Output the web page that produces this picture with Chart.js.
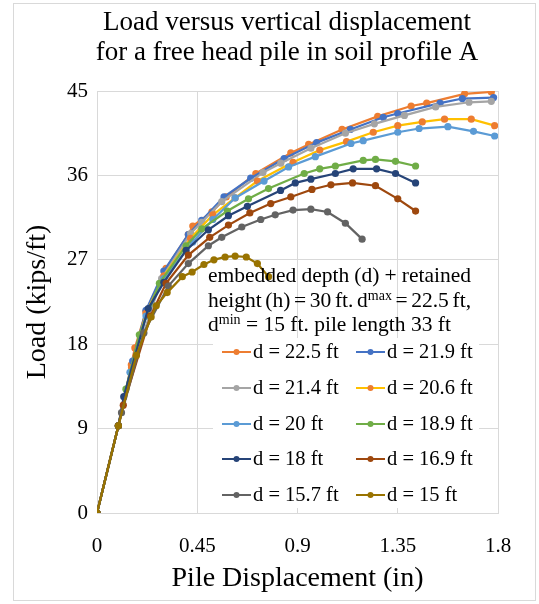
<!DOCTYPE html>
<html>
<head>
<meta charset="utf-8">
<script src="https://cdn.jsdelivr.net/npm/chart.js@4.4.1/dist/chart.umd.min.js"></script>
<style>
  html, body { margin: 0; padding: 0; background: #fff; }
  #wrap { width: 539px; height: 604px; position: relative; }
</style>
</head>
<body>
<div id="wrap"><canvas id="myChart" width="539" height="604"></canvas></div>
<script>
const seriesLabels = ['d = 22.5 ft', 'd = 21.9 ft', 'd = 21.4 ft', 'd = 20.6 ft', 'd = 20 ft',
  'd = 18.9 ft', 'd = 18 ft', 'd = 16.9 ft', 'd = 15.7 ft', 'd = 15 ft'];
const lineColors = ['#ED7D31', '#4472C4', '#A5A5A5', '#FFC000', '#5B9BD5',
  '#70AD47', '#264478', '#9E480E', '#636363', '#997300'];
const markerColors = ['#ED7D31', '#4472C4', '#A5A5A5', '#ED7D31', '#5B9BD5',
  '#70AD47', '#264478', '#9E480E', '#636363', '#997300'];

const xTicks = [0, 0.45, 0.9, 1.35, 1.8];
const yTicks = [0, 9, 18, 27, 36, 45];

// displacement (in) / load (kips/ft)
const disp225 = [0, 0.096, 0.154, 0.17, 0.22, 0.31, 0.41, 0.43, 0.516, 0.58, 0.713, 0.87, 0.95, 1.10, 1.26, 1.41, 1.48, 1.65, 1.77];
const load225 = [0, 9.3, 15.8, 17.6, 21.5, 26.1, 29.7, 30.6, 32.1, 33.7, 36.2, 38.4, 39.3, 40.9, 42.3, 43.4, 43.7, 44.7, 44.9];
const disp219 = [0, 0.096, 0.16, 0.22, 0.30, 0.41, 0.47, 0.57, 0.69, 0.84, 0.986, 1.137, 1.285, 1.35, 1.54, 1.64, 1.78];
const load219 = [0, 9.3, 16.2, 21.6, 25.8, 29.7, 31.2, 33.7, 35.7, 37.8, 39.5, 40.9, 42.2, 42.6, 43.7, 44.2, 44.3];
const disp214 = [0, 0.096, 0.21, 0.29, 0.42, 0.47, 0.56, 0.745, 0.825, 0.96, 1.115, 1.245, 1.38, 1.52, 1.67, 1.77];
const load214 = [0, 9.3, 19.2, 25.0, 29.8, 31.0, 33.2, 36.3, 37.3, 38.9, 40.5, 41.5, 42.4, 43.3, 43.8, 43.9];
const disp206 = [0, 0.096, 0.155, 0.22, 0.30, 0.42, 0.52, 0.62, 0.72, 0.88, 1.0, 1.12, 1.24, 1.35, 1.46, 1.56, 1.68, 1.785];
const load206 = [0, 9.3, 15.5, 21.3, 25.3, 29.3, 31.8, 33.6, 35.4, 37.4, 38.7, 39.6, 40.6, 41.3, 41.7, 42.0, 42.0, 41.3];
const disp200 = [0, 0.096, 0.148, 0.22, 0.30, 0.43, 0.52, 0.62, 0.75, 0.86, 0.98, 1.14, 1.195, 1.35, 1.446, 1.575, 1.69, 1.785];
const load200 = [0, 9.3, 15.0, 21.0, 25.0, 28.9, 31.3, 33.6, 35.4, 36.9, 38.0, 39.4, 39.7, 40.6, 41.0, 41.2, 40.7, 40.2];
const disp189 = [0, 0.096, 0.13, 0.19, 0.28, 0.40, 0.47, 0.585, 0.68, 0.77, 0.93, 1.0, 1.07, 1.195, 1.25, 1.34, 1.43];
const load189 = [0, 9.3, 13.2, 19.0, 24.5, 28.5, 30.3, 32.2, 33.5, 34.6, 36.2, 36.7, 37.0, 37.6, 37.7, 37.5, 37.0];
const disp180 = [0, 0.096, 0.12, 0.23, 0.30, 0.40, 0.50, 0.59, 0.675, 0.824, 0.89, 0.96, 1.07, 1.15, 1.255, 1.34, 1.43];
const load180 = [0, 9.3, 12.4, 21.8, 24.6, 28.0, 30.2, 31.7, 32.7, 34.4, 35.2, 35.6, 36.2, 36.7, 36.7, 36.2, 35.2];
const disp169 = [0, 0.096, 0.118, 0.24, 0.31, 0.41, 0.506, 0.59, 0.686, 0.78, 0.87, 0.965, 1.05, 1.147, 1.25, 1.35, 1.43];
const load169 = [0, 9.3, 11.5, 21.0, 24.5, 27.5, 29.4, 30.7, 32.0, 33.0, 33.7, 34.5, 35.0, 35.2, 34.9, 33.5, 32.2];
const disp157 = [0, 0.096, 0.11, 0.21, 0.32, 0.41, 0.50, 0.56, 0.65, 0.735, 0.80, 0.88, 0.96, 1.035, 1.115, 1.19];
const load157 = [0, 9.3, 10.7, 19.2, 24.2, 26.6, 28.5, 29.4, 30.5, 31.3, 31.8, 32.3, 32.4, 32.1, 30.9, 29.2];
const disp150 = [0, 0.096, 0.177, 0.243, 0.266, 0.315, 0.383, 0.427, 0.48, 0.525, 0.575, 0.62, 0.67, 0.72, 0.77];
const load150 = [0, 9.3, 16.8, 20.9, 22.1, 23.5, 25.2, 25.7, 26.5, 27.0, 27.3, 27.4, 27.3, 26.6, 25.2];

const dispSeries = [disp225, disp219, disp214, disp206, disp200, disp189, disp180, disp169, disp157, disp150];
const loadSeries = [load225, load219, load214, load206, load200, load189, load180, load169, load157, load150];

const serif = "'Liberation Serif', 'Times New Roman', serif";

const datasets = seriesLabels.map((label, i) => ({
  label: label,
  data: dispSeries[i].map((x, j) => ({ x: x, y: loadSeries[i][j] })),
  showLine: true,
  borderColor: lineColors[i],
  backgroundColor: markerColors[i],
  pointBackgroundColor: markerColors[i],
  pointBorderColor: markerColors[i],
  borderWidth: 2.25,
  pointRadius: 3.6,
  pointBorderWidth: 0,
  order: seriesLabels.length - 1 - i
}));

// title, note, legend and frame drawn on the canvas
const decorPlugin = {
  id: 'decor',
  afterDraw(chart) {
    const ctx = chart.ctx;
    ctx.save();
    ctx.strokeStyle = '#D9D9D9';
    ctx.lineWidth = 1;
    ctx.strokeRect(13.5, 3.5, 522, 597);

    ctx.fillStyle = '#000';
    ctx.textBaseline = 'middle';
    ctx.textAlign = 'center';
    ctx.font = '27px ' + serif;
    ctx.fillText('Load versus vertical displacement', 287, 23);
    ctx.fillText('for a free head pile in soil profile A', 287, 53);

    // legend box
    ctx.fillStyle = '#fff';
    ctx.fillRect(213, 338, 266, 170);
    const rows = [352, 388, 424, 459, 495];
    const cols = [222, 356];
    ctx.font = '20.5px ' + serif;
    ctx.textAlign = 'left';
    chart.data.datasets.forEach((ds, i) => {
      const x = cols[i % 2], y = rows[Math.floor(i / 2)];
      ctx.strokeStyle = ds.borderColor;
      ctx.lineWidth = 2;
      ctx.beginPath();
      ctx.moveTo(x, y);
      ctx.lineTo(x + 29, y);
      ctx.stroke();
      ctx.fillStyle = ds.pointBackgroundColor;
      ctx.beginPath();
      ctx.arc(x + 14.5, y, 3, 0, Math.PI * 2);
      ctx.fill();
      ctx.fillStyle = '#000';
      ctx.fillText(ds.label, x + 31, y + 1);
    });

    // note, first two lines justified to the box width
    ctx.textBaseline = 'alphabetic';
    const left = 208, right = 471;
    const big = '21.5px ' + serif, small = '14px ' + serif;
    const lines = [
      { y: 282, justify: true, parts: [['embedded depth (d) + retained', 0]] },
      { y: 307, justify: true, parts: [['height (h) = 30 ft. d', 0], ['max', 1], [' = 22.5 ft,', 0]] },
      { y: 331, justify: false, parts: [['d', 0], ['min', 1], [' = 15 ft. pile length 33 ft', 0]] }
    ];
    lines.forEach(line => {
      let total = 0, gaps = 0;
      line.parts.forEach(p => {
        ctx.font = p[1] ? small : big;
        total += ctx.measureText(p[0]).width;
        if (!p[1]) gaps += (p[0].match(/ /g) || []).length;
      });
      const extra = line.justify && gaps ? (right - left - total) / gaps : 0;
      let x = left;
      line.parts.forEach(p => {
        ctx.font = p[1] ? small : big;
        const dy = p[1] ? -7 : 0;
        for (const ch of p[0]) {
          ctx.fillText(ch, x, line.y + dy);
          x += ctx.measureText(ch).width + (ch === ' ' && !p[1] ? extra : 0);
        }
      });
    });
    ctx.restore();
  }
};

new Chart(document.getElementById('myChart'), {
  type: 'scatter',
  data: { datasets: datasets },
  options: {
    responsive: false,
    animation: false,
    layout: { padding: { top: 91, left: 0, right: 41, bottom: 0 } },
    plugins: {
      legend: { display: false },
      tooltip: { enabled: false }
    },
    scales: {
      x: {
        type: 'linear',
        min: 0,
        max: 1.8,
        afterBuildTicks: s => { s.ticks = xTicks.map(v => ({ value: v })); },
        afterFit: s => { s.height = 91; },
        grid: { color: '#D9D9D9', drawTicks: false },
        border: { color: '#D9D9D9' },
        ticks: {
          padding: 21,
          color: '#000',
          font: { family: serif, size: 21 },
          callback: v => String(v)
        },
        title: {
          display: true,
          text: 'Pile Displacement (in)',
          color: '#000',
          font: { family: serif, size: 28 },
          padding: { top: 0, bottom: 9 }
        }
      },
      y: {
        min: 0,
        max: 45,
        afterBuildTicks: s => { s.ticks = yTicks.map(v => ({ value: v })); },
        afterFit: s => { s.width = 97; },
        grid: { color: '#D9D9D9', drawTicks: false },
        border: { color: '#D9D9D9' },
        ticks: {
          padding: 9,
          color: '#000',
          font: { family: serif, size: 21 }
        },
        title: {
          display: true,
          text: 'Load (kips/ft)',
          color: '#000',
          font: { family: serif, size: 28 },
          padding: { top: 21, bottom: 0 }
        }
      }
    }
  },
  plugins: [decorPlugin]
});
</script>
</body>
</html>
